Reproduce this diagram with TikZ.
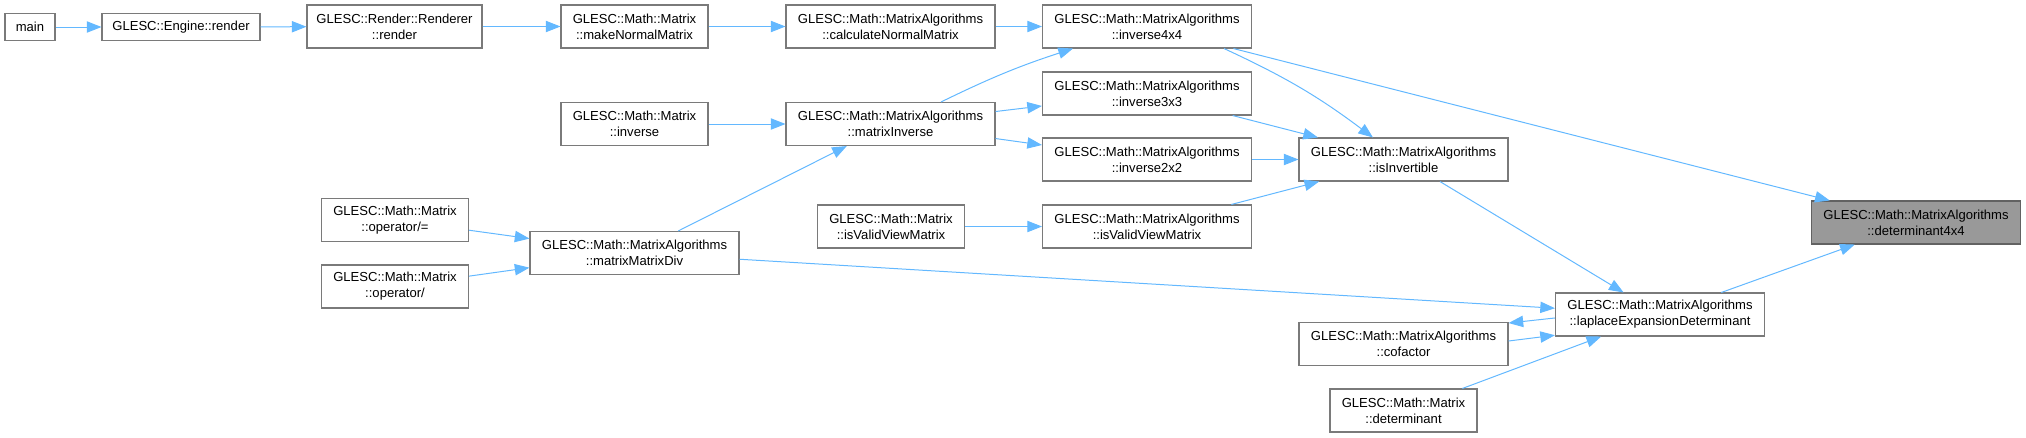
\documentclass[tikz,border=0pt]{standalone}
\usepackage{fontspec}
\setmainfont{Liberation Sans}
\usepackage{tikz}
\usetikzlibrary{arrows.meta}
\definecolor{edgeblue}{HTML}{63B8FF}
\definecolor{boxline}{HTML}{7A7A7A}
\definecolor{focusfill}{HTML}{999999}
\definecolor{paper}{HTML}{FFFFFF}
\tikzset{
  callarr/.style={-{Triangle[length=11pt,width=8.5pt]},line width=0.75pt,color=edgeblue},
  fnbox/.style={draw=boxline,fill=paper,line width=0.8pt,align=center,inner sep=0pt,
    minimum height=32.25pt,font=\fontsize{9.8}{12}\selectfont},
  fnone/.style={fnbox,minimum height=20.25pt},
  algbox/.style={fnbox,minimum width=156.75pt},
  matbox/.style={fnbox,minimum width=110.25pt},
  focusbox/.style={algbox,fill=focusfill,draw=boxline!80!black}
}
\begin{document}
\begin{tikzpicture}[x=0.75pt,y=-0.75pt]
  \useasboundingbox (0,0) rectangle (2026,437);
  \node[fnone,minimum width=37.5pt] (main) at (30,27) {main};
  \node[fnone,minimum width=118.5pt] (eng) at (181,27) {GLESC::Engine::render};
  \node[fnbox,minimum width=131.25pt] (rend) at (394.5,26.5) {GLESC::Render::Renderer\\::render};
  \node[matbox] (opdive) at (395,220) {GLESC::Math::Matrix\\::operator/=};
  \node[matbox] (opdiv) at (395,286.5) {GLESC::Math::Matrix\\::operator/};
  \node[matbox] (mknorm) at (634.5,26.5) {GLESC::Math::Matrix\\::makeNormalMatrix};
  \node[matbox] (minv) at (634.5,124) {GLESC::Math::Matrix\\::inverse};
  \node[algbox] (mmd) at (634.5,253) {GLESC::Math::MatrixAlgorithms\\::matrixMatrixDiv};
  \node[algbox] (calc) at (890.5,26.5) {GLESC::Math::MatrixAlgorithms\\::calculateNormalMatrix};
  \node[algbox] (mi) at (890.5,124) {GLESC::Math::MatrixAlgorithms\\::matrixInverse};
  \node[matbox] (mvalid) at (891,226.5) {GLESC::Math::Matrix\\::isValidViewMatrix};
  \node[algbox] (inv4) at (1147,26.5) {GLESC::Math::MatrixAlgorithms\\::inverse4x4};
  \node[algbox] (inv3) at (1147,93.5) {GLESC::Math::MatrixAlgorithms\\::inverse3x3};
  \node[algbox] (inv2) at (1147,159.5) {GLESC::Math::MatrixAlgorithms\\::inverse2x2};
  \node[algbox] (avalid) at (1147,226.5) {GLESC::Math::MatrixAlgorithms\\::isValidViewMatrix};
  \node[algbox] (isinv) at (1403.5,159.5) {GLESC::Math::MatrixAlgorithms\\::isInvertible};
  \node[algbox] (cof) at (1403.5,344) {GLESC::Math::MatrixAlgorithms\\::cofactor};
  \node[matbox] (mdet) at (1403.5,410.5) {GLESC::Math::Matrix\\::determinant};
  \node[algbox] (lap) at (1660,314.5) {GLESC::Math::MatrixAlgorithms\\::laplaceExpansionDeterminant};
  \node[focusbox] (det4) at (1916,222.5) {GLESC::Math::MatrixAlgorithms\\::determinant4x4};
  \draw[callarr] (main) -- (eng);
  \draw[callarr] (eng) -- (rend);
  \draw[callarr] (rend) -- (mknorm);
  \draw[callarr] (mknorm) -- (calc);
  \draw[callarr] (calc) -- (inv4);
  \draw[callarr] (minv) -- (mi);
  \draw[callarr] ([xshift=37.9pt]mi.north) to[bend left=4] ([xshift=-55.5pt]inv4.south);
  \draw[callarr] (mi) -- (inv3);
  \draw[callarr] (mi) -- (inv2);
  \draw[callarr] (mmd) -- (mi);
  \draw[callarr] (opdive) -- (mmd);
  \draw[callarr] (opdiv) -- (mmd);
  \draw[callarr] (mvalid) -- (avalid);
  \draw[callarr] ([xshift=57.75pt]inv4.south) to[bend left=6] ([xshift=-22.9pt]isinv.north);
  \draw[callarr] (inv3) -- (isinv);
  \draw[callarr] (inv2) -- (isinv);
  \draw[callarr] (avalid) -- (isinv);
  \draw[callarr] (inv4) -- (det4);
  \draw[callarr] (isinv) -- (lap);
  \draw[callarr] (mmd) -- (lap);
  \draw[callarr] ([yshift=-2.6pt]lap.west) -- ([yshift=-0.8pt]cof.north east);
  \draw[callarr] ([yshift=2.25pt]cof.east) -- ([yshift=1pt]lap.south west);
  \draw[callarr] (mdet) -- (lap);
  \draw[callarr] (lap) -- (det4);
\end{tikzpicture}
\end{document}
